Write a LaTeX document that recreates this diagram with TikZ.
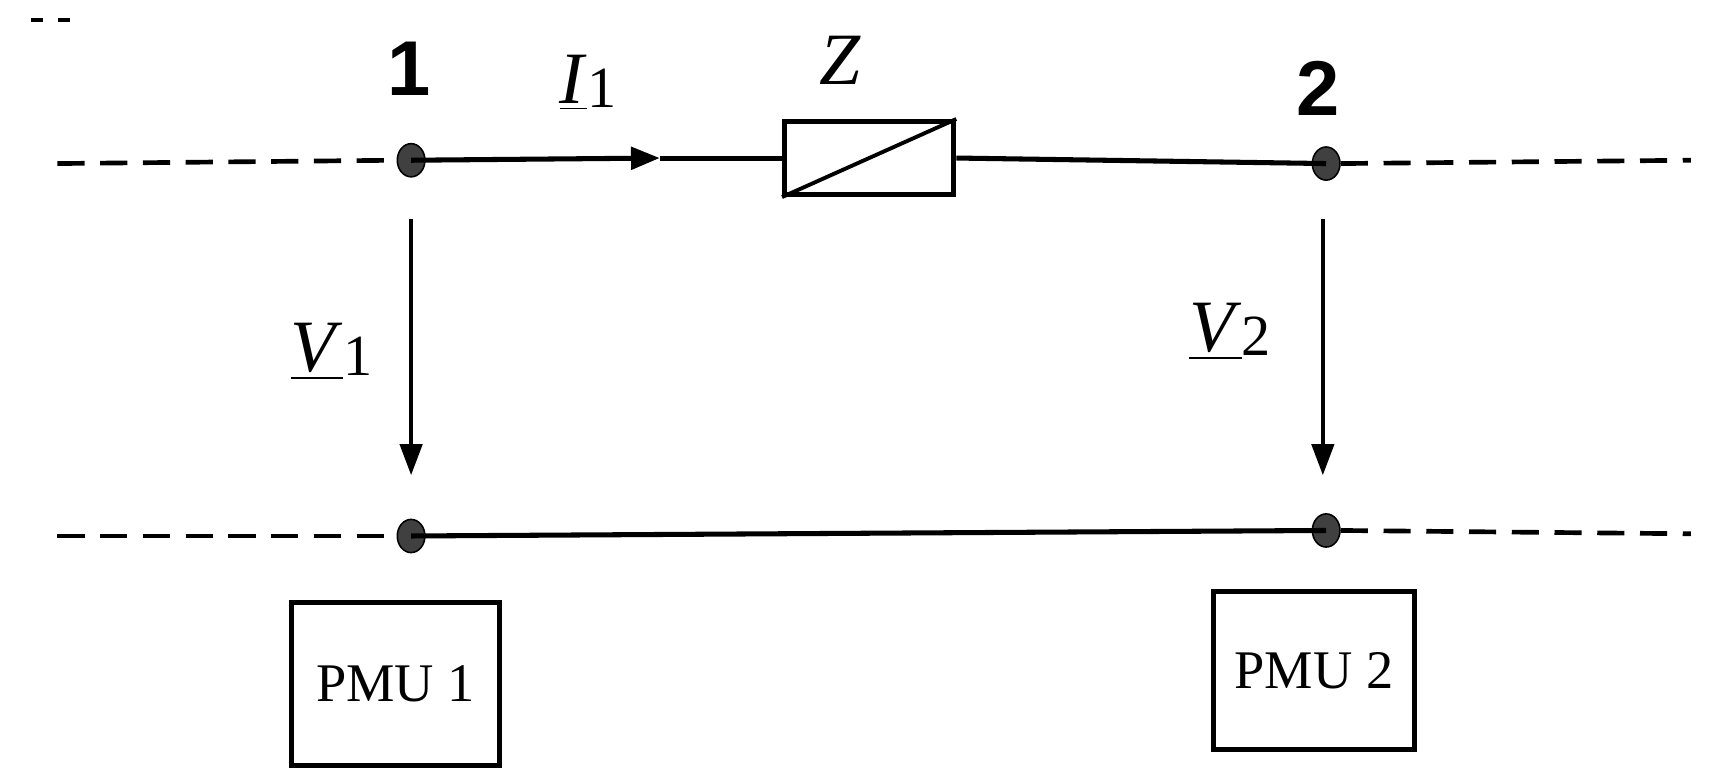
\documentclass[tikz,border=0pt]{standalone}
\usepackage{fontspec}
\setmainfont{Liberation Serif}
\newfontfamily\sansb{Liberation Sans}
\usetikzlibrary{arrows.meta,shapes.geometric}
\newcommand{\sbx}[1]{\raisebox{-1pt}{\fontsize{15}{15}\selectfont #1}}
\begin{document}
\begin{tikzpicture}[x=0.01cm,y=-0.01cm,
  dot/.style={ellipse,fill=black!75,draw=black,inner sep=0,minimum width=0.25cm,minimum height=0.3cm},
  wire/.style={line width=1.3pt},
  dline/.style={line width=1.2pt,dash pattern=on 7pt off 4pt},
  varr/.style={line width=1pt,-{Triangle[length=0.28cm,width=0.2cm]}},
  box/.style={draw,line width=1.3pt,inner sep=0},
  lab/.style={font=\fontsize{19}{19}\selectfont},
  num/.style={font=\sansb\bfseries\fontsize{20}{20}\selectfont}]
\useasboundingbox (0,0) rectangle (1560,709);
\node[dot] (n1) at (372,145) {};
\node[dot] (n2) at (1200,148) {};
\node[dot] (n3) at (372,485) {};
\node[dot] (n4) at (1200,480) {};
\coordinate (d1) at (52,148); \coordinate (d2) at (1530,145);
\coordinate (d3) at (52,485); \coordinate (d4) at (1530,483);
\draw[dline] (d1) -- (n1.west);
\draw[dline] (n2.east) -- (d2);
\draw[dline] (d3) -- (n3.west);
\draw[dline] (n4.east) -- (d4);
\coordinate (s1) at (28,18); \coordinate (s2) at (72,18);
\draw[line width=1pt,dash pattern=on 3pt off 4pt] (s1) -- (s2);
\node[box,minimum width=1.53cm,minimum height=0.66cm] (z) at (786.5,143) {};
\draw[line width=1pt] (z.south west) -- (z.north east);
\coordinate (am) at (597,143);
\draw[wire,-{Triangle[length=0.26cm,width=0.2cm]}] (n1.center) -- (am);
\draw[wire] (am) -- (z.west);
\draw[wire] (z.east) -- (n2.center);
\draw[wire] (n3.center) -- (n4.center);
\coordinate (a1) at (372,198); \coordinate (b1) at (372,430);
\coordinate (a2) at (1197,198); \coordinate (b2) at (1197,430);
\draw[varr] (a1) -- (b1);
\draw[varr] (a2) -- (b2);
\node[num] (l1) at (370,62) {1};
\node[num] (l2) at (1193,80) {2};
\node[lab] (li) at (532,75) {\underline{\textit{I}}\sbx{1}};
\node[lab] (lz) at (760,55) {\textit{Z}};
\node[lab] (lv1) at (300,318) {\underline{\textit{V}}\sbx{1}};
\node[lab] (lv2) at (1113,300) {\underline{\textit{V}}\sbx{2}};
\node[box,minimum width=1.88cm,minimum height=1.48cm,font=\fontsize{14}{14}\selectfont] (p1) at (358,619) {PMU 1};
\node[box,minimum width=1.82cm,minimum height=1.43cm,font=\fontsize{14}{14}\selectfont] (p2) at (1189,606.5) {PMU 2};
\end{tikzpicture}
\end{document}
